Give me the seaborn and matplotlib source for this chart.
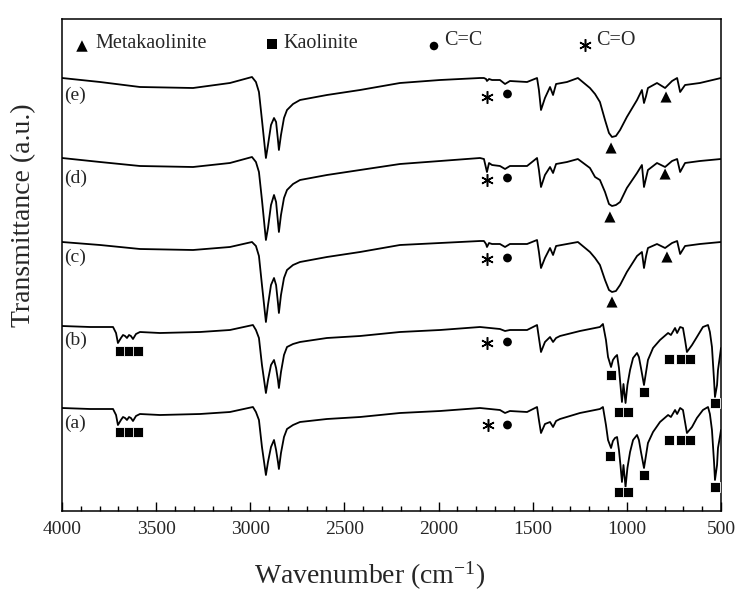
import matplotlib
matplotlib.use("Agg")
import matplotlib.pyplot as plt
import numpy as np
import pandas as pd
import seaborn as sns
from matplotlib.ticker import MultipleLocator

sns.set_theme(style="ticks")
plt.rcParams["font.family"] = ["Liberation Serif", "DejaVu Serif"]
plt.rcParams["mathtext.fontset"] = "custom"
plt.rcParams["mathtext.rm"] = "Liberation Serif"
plt.rcParams["mathtext.default"] = "regular"

# ---------------- spectra (stacked transmittance, a.u.) ----------------
# wavenumber grid of the metakaolin-based samples (c)-(e)
wn_meta = [4000, 3798, 3586, 3304, 3108, 2991, 2970, 2954, 2938, 2917,
           2906, 2890, 2874, 2863, 2853, 2848, 2837, 2821, 2805, 2773,
           2736, 2593, 2417, 2205, 1992, 1780, 1759, 1748, 1743, 1732,
           1716, 1674, 1647, 1621, 1530, 1477, 1467, 1456, 1435, 1408,
           1392, 1376, 1318, 1260, 1196, 1169, 1143, 1116, 1095, 1079,
           1058, 1036, 1000, 946, 920, 909, 898, 888, 840, 797,
           760, 733, 717, 691, 612, 500]

trans_e = [433, 429, 424, 423, 428, 434, 429, 419, 391, 353,
           366, 386, 393, 389, 371, 361, 376, 393, 401, 407,
           411, 416, 421, 428, 431, 433, 433, 432, 430, 432,
           431, 431, 427, 430, 429, 433, 421, 401, 413, 424,
           416, 427, 429, 433, 423, 417, 409, 391, 378, 374,
           375, 381, 394, 411, 421, 408, 415, 423, 428, 423,
           430, 433, 419, 426, 428, 433]

trans_d = [353, 349, 345, 344, 348, 354, 349, 339, 311, 271,
           283, 306, 316, 309, 289, 279, 296, 313, 321, 327,
           331, 336, 341, 347, 350, 353, 352, 343, 339, 348,
           346, 345, 342, 345, 345, 353, 341, 324, 336, 344,
           338, 347, 349, 352, 343, 334, 331, 319, 307, 305,
           306, 309, 323, 338, 346, 324, 333, 341, 348, 344,
           350, 352, 339, 348, 350, 352]

trans_c = [269, 266, 262, 261, 264, 269, 265, 255, 226, 189,
           206, 226, 233, 226, 208, 198, 216, 233, 241, 246,
           249, 254, 259, 266, 268, 270, 270, 267, 264, 268,
           267, 267, 264, 267, 267, 271, 259, 243, 253, 263,
           256, 265, 267, 269, 259, 253, 246, 231, 221, 219,
           220, 226, 239, 255, 259, 243, 255, 263, 267, 263,
           268, 270, 257, 265, 267, 269]

# wavenumber grid of the kaolinite-based samples (a)-(b)
wn_clay = [4000, 3851, 3729, 3713, 3703, 3687, 3676, 3665, 3655, 3644,
           3634, 3623, 3607, 3586, 3480, 3267, 3108, 2986, 2970, 2954,
           2938, 2917, 2906, 2890, 2874, 2863, 2853, 2848, 2837, 2821,
           2805, 2773, 2736, 2593, 2417, 2205, 1992, 1780, 1674, 1647,
           1621, 1530, 1477, 1467, 1456, 1435, 1408, 1392, 1376, 1355,
           1249, 1143, 1127, 1111, 1100, 1084, 1074, 1063, 1052, 1042,
           1034, 1026, 1018, 1007, 997, 983, 967, 946, 936, 925,
           909, 898, 888, 861, 824, 781, 766, 744, 733, 717,
           702, 691, 681, 654, 628, 596, 569, 559, 548, 537,
           532, 521, 516, 505, 500]

trans_b = [185, 184, 184, 178, 168, 173, 176, 175, 173, 176,
           175, 172, 177, 179, 178, 179, 181, 186, 181, 173,
           146, 118, 131, 146, 151, 143, 131, 123, 139, 156,
           164, 167, 169, 173, 175, 179, 181, 184, 182, 180,
           181, 181, 186, 173, 159, 169, 174, 169, 173, 175,
           180, 184, 187, 171, 154, 144, 151, 154, 156, 143,
           126, 109, 127, 108, 126, 141, 153, 158, 154, 143,
           126, 139, 151, 163, 171, 178, 176, 183, 178, 184,
           183, 171, 159, 166, 174, 184, 186, 179, 164, 131,
           114, 126, 141, 156, 163]

trans_a = [103, 102, 102, 96, 86, 91, 94, 93, 91, 94,
           93, 90, 95, 97, 96, 97, 99, 104, 99, 91,
           64, 36, 49, 64, 71, 61, 49, 42, 58, 74,
           82, 86, 89, 92, 94, 98, 100, 103, 101, 98,
           100, 99, 104, 91, 78, 87, 89, 84, 90, 92,
           98, 102, 104, 86, 71, 63, 70, 73, 74, 61,
           46, 29, 46, 24, 43, 59, 71, 76, 71, 59,
           43, 56, 68, 79, 89, 96, 94, 101, 97, 103,
           101, 89, 78, 84, 93, 101, 104, 97, 81, 49,
           31, 46, 63, 75, 81]

sample_labels = ["(a)", "(b)", "(c)", "(d)", "(e)"]
label_levels = [88, 171, 254, 333, 416]

# ---------------- band assignments ----------------
meta_wn = [1084, 792, 1090, 797, 1079, 787]
meta_level = [363, 414, 294, 337, 209, 254]

kaol_wn = [3692, 3644, 3596, 1084, 1042, 994, 909, 776, 713, 665, 532,
           3692, 3644, 3596, 1090, 1042, 994, 909, 776, 713, 665, 532]
kaol_level = [160, 160, 160, 136, 99, 99, 119, 152, 152, 152, 108,
              79, 79, 79, 55, 19, 19, 36, 71, 71, 71, 24]

cc_wn = [1634, 1634, 1634, 1634, 1634]
cc_level = [417, 333, 253, 169, 86]

co_wn = [1743, 1743, 1743, 1743, 1738]
co_level = [414, 331, 252, 168, 86]

legend_names = ["Metakaolinite", "Kaolinite", "C=C", "C=O"]

# ---------------- figure ----------------
fig = plt.figure(figsize=(7.35, 5.91), dpi=100)
ax = fig.add_axes([62 / 735, 80 / 591, 659 / 735, 492 / 591])

frames = []
for name, wn, t in [("a", wn_clay, trans_a), ("b", wn_clay, trans_b),
                    ("c", wn_meta, trans_c), ("d", wn_meta, trans_d),
                    ("e", wn_meta, trans_e)]:
    frames.append(pd.DataFrame({"wavenumber": wn, "T": t, "sample": name}))
spectra = pd.concat(frames, ignore_index=True)

sns.lineplot(data=spectra, x="wavenumber", y="T", units="sample",
             estimator=None, sort=False, color="black", linewidth=1.3,
             legend=False, ax=ax)

sns.scatterplot(x=meta_wn, y=meta_level, marker="^", s=64, color="black",
                edgecolor="none", ax=ax, legend=False, zorder=3)
sns.scatterplot(x=kaol_wn, y=kaol_level, marker="s", s=50, color="black",
                edgecolor="white", linewidth=0.6, ax=ax, legend=False,
                zorder=3)
sns.scatterplot(x=cc_wn, y=cc_level, marker="o", s=40, color="black",
                edgecolor="none", ax=ax, legend=False, zorder=3)
ax.plot(co_wn, co_level, linestyle="none", marker=(6, 2, 0), markersize=9,
        markeredgewidth=1.1, color="black", zorder=3)

for lab, lev in zip(sample_labels, label_levels):
    ax.text(3989, lev, lab, ha="left", va="center", fontsize=14)

# key along the top of the frame
key = [("^", 68, 0.0303, 0.9451, 0.0501, 0.9492),
       ("s", 44, 0.3187, 0.9492, 0.3354, 0.9512),
       ("o", 38, 0.5645, 0.9451, 0.5797, 0.9573),
       ((6, 2, 0), None, 0.7936, 0.9472, 0.8103, 0.9573)]
for (mk, sz, mx, my, tx, ty), name in zip(key, legend_names):
    if sz is None:
        ax.plot([mx], [my], transform=ax.transAxes, linestyle="none",
                marker=mk, markersize=9, markeredgewidth=1.1, color="black")
    else:
        ax.scatter([mx], [my], transform=ax.transAxes, marker=mk, s=sz,
                   color="black", edgecolor="none")
    ax.text(tx, ty, name, transform=ax.transAxes, ha="left", va="center",
            fontsize=14.5)

ax.set_xlim(4000, 500)
ax.set_ylim(0, 492)
ax.xaxis.set_major_locator(MultipleLocator(500))
ax.xaxis.set_minor_locator(MultipleLocator(100))
ax.set_yticks([])
ax.tick_params(axis="x", which="major", direction="in", length=6.5,
               width=1.0, labelsize=14, pad=7, top=False, color="black")
ax.tick_params(axis="x", which="minor", direction="in", length=3.6,
               width=1.0, top=False, color="black")
for sp in ax.spines.values():
    sp.set_visible(True)
    sp.set_color("black")
    sp.set_linewidth(1.1)

ax.set_xlabel("Wavenumber (cm$^{-1}$)", fontsize=20)
ax.xaxis.set_label_coords(0.466, -0.132)
ax.xaxis.label.set_va("center")
ax.set_ylabel("Transmittance (a.u.)", fontsize=20)
ax.yaxis.set_label_coords(-0.059, 0.602)
ax.yaxis.label.set_va("center")

fig.savefig("out.png", dpi=100)
